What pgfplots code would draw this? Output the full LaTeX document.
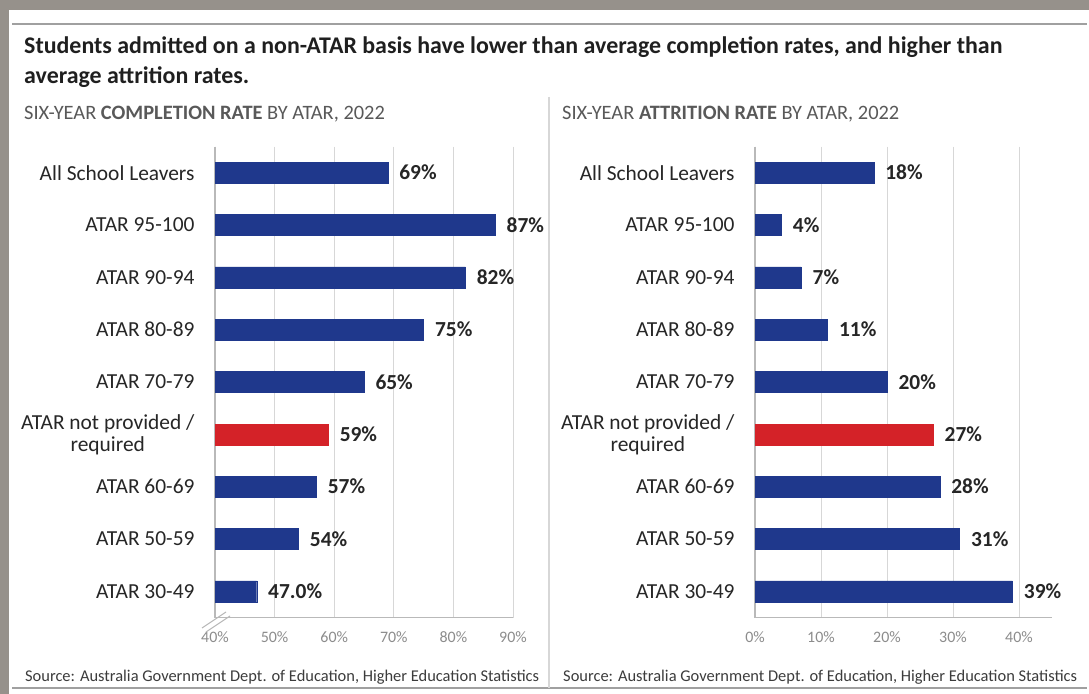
\documentclass[border=0pt]{standalone}
\usepackage{pgfplots}
\pgfplotsset{compat=1.18}
\usepackage{fontspec}
\setmainfont{Carlito}
\definecolor{navy}{RGB}{31,56,140}
\definecolor{redbar}{RGB}{212,34,40}
\definecolor{gridc}{RGB}{215,215,215}
\definecolor{axc}{RGB}{185,185,185}
\definecolor{tickc}{RGB}{140,140,140}
\definecolor{txt}{RGB}{38,38,38}
\definecolor{subc}{RGB}{89,89,89}
\definecolor{framec}{RGB}{150,145,139}
\definecolor{linec}{RGB}{160,160,160}

\pgfplotsset{
  panel/.style={
    xbar, bar width=21bp, bar shift=0pt,
    scale only axis, width=298bp, height=471bp,
    y dir=reverse, ymin=-0.5, ymax=8.5,
    ytick={0,...,8},
    yticklabels={All School Leavers, ATAR 95-100, ATAR 90-94, ATAR 80-89, ATAR 70-79, {ATAR not provided /\\required}, ATAR 60-69, ATAR 50-59, ATAR 30-49},
    axis x line*=bottom, axis y line*=left,
    axis line style={draw=axc, line width=1.3bp},
    xmajorgrids, major grid style={draw=gridc, line width=1bp},
    major tick length=0pt,
    /pgf/number format/assume math mode=true,
    xticklabel={\pgfmathprintnumber{\tick}\%},
    yticklabel style={font=\fontsize{21.5}{22}\selectfont, text=txt, align=center, xshift=-17bp},
    xticklabel style={font=\fontsize{16}{18}\selectfont, text=tickc, yshift=-11bp},
    nodes near coords, point meta=explicit symbolic,
    every node near coord/.append style={font=\bfseries\fontsize{21.5}{24}\selectfont, text=txt, anchor=west, xshift=8bp},
  }
}

\begin{document}
\begin{tikzpicture}[x=1bp,y=1bp]
\path[use as bounding box] (0,0) rectangle (1089,694);
\fill[white] (0,0) rectangle (1089,694);
% photo frame edges
\fill[framec] (0,684) rectangle (1089,694);
\fill[framec] (0,0) rectangle (9,694);
% rules
\draw[linec, line width=2bp] (12,670) -- (1087,670);
\draw[linec, line width=1.5bp] (12,6) -- (1087,6);
\draw[gridc, line width=1.2bp] (549,597) -- (549,6);

% titles
\node[anchor=base west, inner sep=0, font=\bfseries\fontsize{24}{28}\selectfont, text=black!88] at (24,640.7) {Students admitted on a non-ATAR basis have lower than average completion rates, and higher than};
\node[anchor=base west, inner sep=0, font=\bfseries\fontsize{24}{28}\selectfont, text=black!88] at (24,610.7) {average attrition rates.};
\node[anchor=base west, inner sep=0, font=\fontsize{20.5}{23}\selectfont, text=subc] at (24,574) {SIX-YEAR \textbf{COMPLETION RATE} BY ATAR, 2022};
\node[anchor=base west, inner sep=0, font=\fontsize{20.5}{23}\selectfont, text=subc] at (562,574) {SIX-YEAR \textbf{ATTRITION RATE} BY ATAR, 2022};
\node[anchor=base west, inner sep=0, font=\fontsize{16.5}{19}\selectfont, text=txt!90] at (25,12) {Source: Australia Government Dept. of Education, Higher Education Statistics};
\node[anchor=base west, inner sep=0, font=\fontsize{16.5}{19}\selectfont, text=txt!90] at (563,12) {Source: Australia Government Dept. of Education, Higher Education Statistics};

% left panel
\begin{axis}[panel, at={(215bp,76.5bp)}, anchor=south west,
  xmin=40, xmax=90, xtick={40,50,...,90}]
\addplot[draw=navy, fill=navy] coordinates {
  (69,0) [69\%]
  (87,1) [87\%]
  (82,2) [82\%]
  (75,3) [75\%]
  (65,4) [65\%]
  (57,6) [57\%]
  (54,7) [54\%]
  (47,8) [47.0\%]
};
\addplot[draw=redbar, fill=redbar] coordinates {
  (59,5) [59\%]
};
\end{axis}
% axis break mark
\draw[axc, line width=1.1bp] (202,66) -- (226,82);
\draw[axc, line width=1.1bp] (206,62) -- (230,78);

% right panel
\begin{axis}[panel, at={(755bp,76.5bp)}, anchor=south west, width=297bp,
  xmin=0, xmax=45, xtick={0,10,...,40}]
\addplot[draw=navy, fill=navy] coordinates {
  (18,0) [18\%]
  (4,1) [4\%]
  (7,2) [7\%]
  (11,3) [11\%]
  (20,4) [20\%]
  (28,6) [28\%]
  (31,7) [31\%]
  (39,8) [39\%]
};
\addplot[draw=redbar, fill=redbar] coordinates {
  (27,5) [27\%]
};
\end{axis}
\end{tikzpicture}
\end{document}
